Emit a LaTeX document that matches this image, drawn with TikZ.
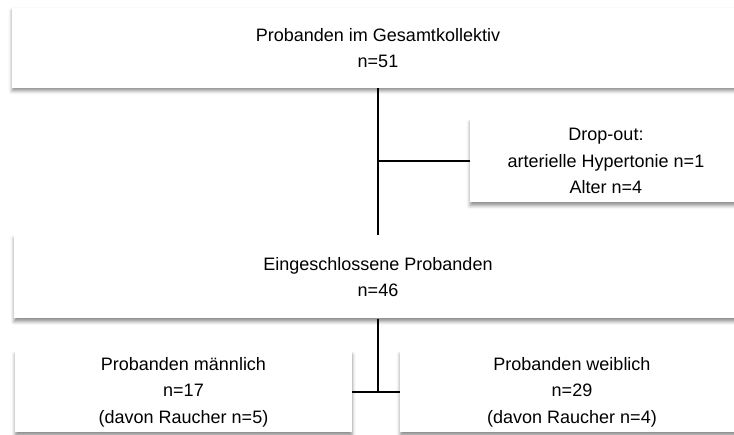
\documentclass[tikz,border=0pt]{standalone}
\usepackage{fontspec}
\setmainfont{Liberation Sans}
\usetikzlibrary{shadows.blur}
\begin{document}
\begin{tikzpicture}[x=1pt,y=-1pt,
  box/.style={rectangle, fill=white, draw=none, inner sep=0pt, align=center,
    font=\fontsize{18}{26.5}\selectfont,
    blur shadow={shadow xshift=0pt, shadow yshift=-3pt, shadow blur radius=3.5pt, shadow opacity=45}},
  conn/.style={line width=2pt, black}]
\useasboundingbox (0,0) rectangle (734,435);
\clip (0,0) rectangle (734,435);
\node[box, minimum width=732, minimum height=80] (n1) at (378,48) {Probanden im Gesamtkollektiv\\n=51};
\node[box, minimum width=272, minimum height=83] (n2) at (606,161) {Drop-out:\\arterielle Hypertonie n=1\\Alter n=4};
\node[box, minimum width=728, minimum height=83] (n3) at (378,277) {Eingeschlossene Probanden\\n=46};
\node[box, minimum width=337, minimum height=81] (n4) at (183.5,392) {Probanden männlich\\n=17\\(davon Raucher n=5)};
\node[box, minimum width=344, minimum height=81] (n5) at (572,392) {Probanden weiblich\\n=29\\(davon Raucher n=4)};
\draw[conn] (n1.south) -- (n3.north);
\draw[conn] (n1.south |- n2.west) -- (n2.west);
\draw[conn] (n3.south) -- (n3.south |- n4.east);
\draw[conn] (n4.east) -- (n5.west);
\end{tikzpicture}
\end{document}
